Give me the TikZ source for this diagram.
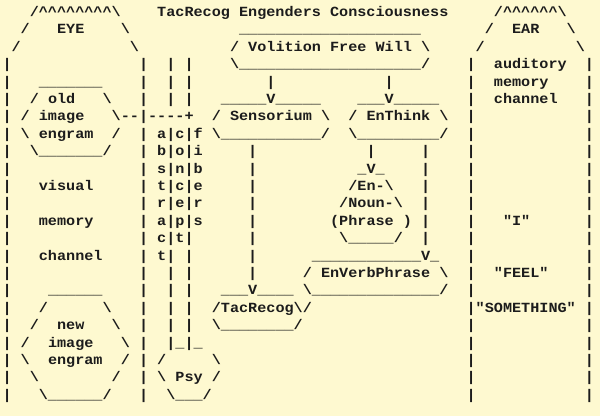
\documentclass[tikz,border=0pt]{standalone}
\usepackage{fontspec}
\setmonofont{Liberation Mono}[FakeStretch=1.0833]
\definecolor{bg}{RGB}{254,249,208}
\definecolor{ink}{RGB}{28,28,28}
\ExplSyntaxOn
\cs_new:Npn \myrep #1#2 {\prg_replicate:nn{#1}{#2}}
\ExplSyntaxOff
\tikzset{txt/.style={inner sep=0pt,outer sep=0pt,anchor=base west,text=ink,
  font=\ttfamily\bfseries\fontsize{14}{17}\selectfont}}
\newcommand\ch[3]{\node[txt] (r#1c#2) at ({2.5+9.1*#2},{416-(16.5+17.4*#1)}) {#3};}
\begin{document}
\begin{tikzpicture}[x=1pt,y=1pt]
\fill[bg] (0,0) rectangle (600,416);
\useasboundingbox (0,0) rectangle (600,416);
% vertical bars
\foreach \r in {3,...,22}{\ch{\r}{0}{|}\ch{\r}{15}{|}\ch{\r}{51}{|}\ch{\r}{64}{|}}
\foreach \r in {3,4,5,7,8,9,10,11,12,13,14,15,16,17,18,19}{\ch{\r}{18}{|}\ch{\r}{20}{|}}
\foreach \r in {8,...,15}{\ch{\r}{27}{|}}
\foreach \r in {8,...,13}{\ch{\r}{46}{|}}
% letter columns
\foreach \l [count=\i from 7] in {a,b,s,t,r,a,c,t}{\ch{\i}{17}{\l}}
\foreach \l [count=\i from 7] in {c,o,n,c,e,p,t}{\ch{\i}{19}{\l}}
\foreach \l [count=\i from 7] in {f,i,b,e,r,s}{\ch{\i}{21}{\l}}
% row 0
\ch{0}{3}{/\myrep{8}{\textasciicircum}\textbackslash}
\ch{0}{17}{TacRecog Engenders Consciousness}
\ch{0}{54}{/\myrep{6}{\textasciicircum}\textbackslash}
% row 1
\ch{1}{2}{/}\ch{1}{6}{EYE}\ch{1}{13}{\textbackslash}
\ch{1}{26}{\myrep{20}{\_}}
\ch{1}{53}{/}\ch{1}{56}{EAR}\ch{1}{62}{\textbackslash}
% row 2
\ch{2}{1}{/}\ch{2}{14}{\textbackslash}
\ch{2}{25}{/ Volition Free Will \textbackslash}
\ch{2}{52}{/}\ch{2}{63}{\textbackslash}
% row 3
\ch{3}{25}{\textbackslash\myrep{20}{\_}/}
\ch{3}{54}{auditory}
% row 4
\ch{4}{4}{\myrep{7}{\_}}
\ch{4}{29}{|}\ch{4}{42}{|}
\ch{4}{54}{memory}
% row 5
\ch{5}{3}{/}\ch{5}{5}{old}\ch{5}{11}{\textbackslash}
\ch{5}{24}{\myrep{5}{\_}V\myrep{5}{\_}}
\ch{5}{39}{\myrep{3}{\_}V\myrep{5}{\_}}
\ch{5}{54}{channel}
% row 6
\ch{6}{2}{/}\ch{6}{4}{image}\ch{6}{12}{\textbackslash-{}-}
\ch{6}{16}{-{}-{}-{}-+}
\ch{6}{23}{/}\ch{6}{25}{Sensorium}\ch{6}{35}{\textbackslash}
\ch{6}{38}{/}\ch{6}{40}{EnThink}\ch{6}{48}{\textbackslash}
% row 7
\ch{7}{2}{\textbackslash}\ch{7}{4}{engram}\ch{7}{12}{/}
\ch{7}{23}{\textbackslash\myrep{11}{\_}/}
\ch{7}{38}{\textbackslash\myrep{9}{\_}/}
% row 8
\ch{8}{3}{\textbackslash\myrep{7}{\_}/}
\ch{8}{40}{|}
% rows 9-14
\ch{9}{39}{\_V\_}
\ch{10}{4}{visual}\ch{10}{38}{/En-\textbackslash}
\ch{11}{37}{/Noun-\textbackslash}
\ch{12}{4}{memory}\ch{12}{36}{(Phrase )}\ch{12}{55}{"I"}
\ch{13}{37}{\textbackslash\myrep{5}{\_}/}
\ch{14}{4}{channel}\ch{14}{34}{\myrep{12}{\_}V\_}
% row 15
\ch{15}{33}{/ EnVerbPhrase \textbackslash}
\ch{15}{54}{"FEEL"}
% row 16
\ch{16}{5}{\myrep{6}{\_}}
\ch{16}{24}{\myrep{3}{\_}V\myrep{4}{\_}}
\ch{16}{33}{\textbackslash\myrep{14}{\_}/}
% row 17
\ch{17}{4}{/}\ch{17}{11}{\textbackslash}
\ch{17}{23}{/TacRecog\textbackslash/}
\ch{17}{52}{"SOMETHING"}
% row 18
\ch{18}{3}{/}\ch{18}{6}{new}\ch{18}{12}{\textbackslash}
\ch{18}{23}{\textbackslash\myrep{8}{\_}/}
% row 19
\ch{19}{2}{/}\ch{19}{5}{image}\ch{19}{13}{\textbackslash}
\ch{19}{19}{\_}\ch{19}{21}{\_}
% row 20
\ch{20}{2}{\textbackslash}\ch{20}{5}{engram}\ch{20}{13}{/}
\ch{20}{17}{/}\ch{20}{23}{\textbackslash}
% row 21
\ch{21}{3}{\textbackslash}\ch{21}{12}{/}
\ch{21}{17}{\textbackslash}\ch{21}{19}{Psy}\ch{21}{23}{/}
% row 22
\ch{22}{4}{\textbackslash\myrep{6}{\_}/}
\ch{22}{18}{\textbackslash\myrep{3}{\_}/}
\end{tikzpicture}
\end{document}
